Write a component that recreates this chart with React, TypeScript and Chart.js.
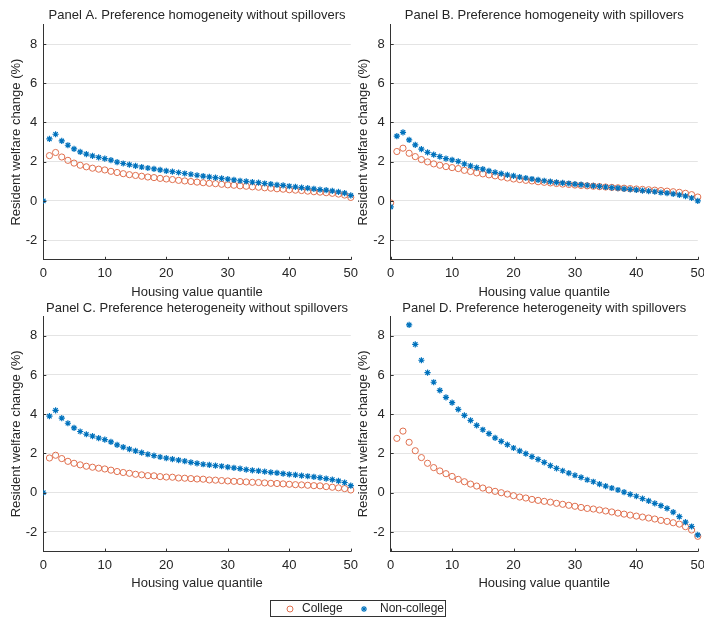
import React, { useEffect, useRef } from "react";
import { Chart, registerables } from "chart.js";

Chart.register(...registerables);

// ---------- data ----------
const quantiles = [
  0, 1, 2, 3, 4, 5, 6, 7, 8, 9, 10, 11, 12, 13, 14, 15, 16, 17, 18, 19, 20,
  21, 22, 23, 24, 25, 26, 27, 28, 29, 30, 31, 32, 33, 34, 35, 36, 37, 38, 39,
  40, 41, 42, 43, 44, 45, 46, 47, 48, 49, 50,
];

const xTickValues = [0, 10, 20, 30, 40, 50];
const yTickValues = [-2, 0, 2, 4, 6, 8];

const panelTitles = [
  "Panel A. Preference homogeneity without spillovers",
  "Panel B. Preference homogeneity with spillovers",
  "Panel C. Preference heterogeneity without spillovers",
  "Panel D. Preference heterogeneity with spillovers",
];

const seriesNames = ["College", "Non-college"];
const xAxisTitle = "Housing value quantile";
const yAxisTitle = "Resident welfare change (%)";

// Panel A
const collegeA = [
  null, 2.31, 2.47, 2.24, 2.07, 1.93, 1.82, 1.74, 1.67, 1.62, 1.58, 1.51, 1.45,
  1.39, 1.34, 1.3, 1.26, 1.22, 1.19, 1.15, 1.12, 1.09, 1.05, 1.02, 0.99, 0.96,
  0.93, 0.9, 0.88, 0.85, 0.82, 0.8, 0.77, 0.75, 0.72, 0.7, 0.67, 0.65, 0.62,
  0.6, 0.57, 0.55, 0.53, 0.5, 0.47, 0.45, 0.42, 0.39, 0.35, 0.3, 0.18,
];
const nonCollegeA = [
  0, 3.16, 3.4, 3.06, 2.84, 2.65, 2.5, 2.39, 2.3, 2.22, 2.16, 2.08, 1.98, 1.91,
  1.85, 1.79, 1.73, 1.68, 1.63, 1.58, 1.53, 1.49, 1.45, 1.4, 1.36, 1.31, 1.27,
  1.23, 1.19, 1.15, 1.11, 1.07, 1.03, 1.0, 0.96, 0.93, 0.89, 0.86, 0.82, 0.79,
  0.75, 0.72, 0.68, 0.65, 0.62, 0.58, 0.55, 0.51, 0.46, 0.4, 0.28,
];

// Panel B
const collegeB = [
  -0.1, 2.52, 2.69, 2.43, 2.26, 2.11, 1.99, 1.89, 1.82, 1.75, 1.7, 1.65, 1.56,
  1.5, 1.43, 1.38, 1.33, 1.28, 1.22, 1.17, 1.12, 1.09, 1.05, 1.02, 0.98, 0.95,
  0.92, 0.89, 0.86, 0.84, 0.81, 0.79, 0.77, 0.75, 0.73, 0.71, 0.69, 0.67, 0.65,
  0.63, 0.61, 0.59, 0.57, 0.55, 0.53, 0.5, 0.47, 0.44, 0.39, 0.32, 0.2,
];
const nonCollegeB = [
  -0.3, 3.3, 3.5, 3.11, 2.86, 2.64, 2.48, 2.36, 2.26, 2.16, 2.09, 2.02, 1.89,
  1.79, 1.7, 1.62, 1.53, 1.46, 1.39, 1.33, 1.28, 1.22, 1.17, 1.12, 1.07, 1.03,
  0.99, 0.95, 0.92, 0.89, 0.86, 0.83, 0.8, 0.77, 0.74, 0.71, 0.68, 0.65, 0.62,
  0.59, 0.56, 0.53, 0.5, 0.47, 0.43, 0.4, 0.36, 0.31, 0.25, 0.15, 0.0,
];

// Panel C
const collegeC = [
  null, 1.77, 1.91, 1.74, 1.6, 1.5, 1.42, 1.35, 1.3, 1.25, 1.21, 1.15, 1.08,
  1.03, 0.99, 0.94, 0.91, 0.87, 0.86, 0.82, 0.8, 0.79, 0.75, 0.74, 0.72, 0.7,
  0.69, 0.65, 0.64, 0.62, 0.6, 0.58, 0.57, 0.55, 0.53, 0.52, 0.5, 0.48, 0.47,
  0.45, 0.43, 0.41, 0.4, 0.38, 0.36, 0.35, 0.31, 0.28, 0.25, 0.21, 0.14,
];
const nonCollegeC = [
  0, 3.9, 4.2, 3.8, 3.54, 3.3, 3.12, 2.98, 2.88, 2.78, 2.71, 2.59, 2.44, 2.32,
  2.22, 2.13, 2.04, 1.96, 1.89, 1.82, 1.76, 1.71, 1.66, 1.61, 1.55, 1.5, 1.45,
  1.42, 1.38, 1.35, 1.3, 1.27, 1.23, 1.18, 1.14, 1.11, 1.08, 1.04, 1.01, 0.97,
  0.94, 0.91, 0.87, 0.84, 0.81, 0.77, 0.72, 0.67, 0.6, 0.52, 0.36,
];

// Panel D
const collegeD = [
  null, 2.77, 3.14, 2.57, 2.14, 1.79, 1.5, 1.28, 1.11, 0.97, 0.83, 0.68, 0.56,
  0.44, 0.34, 0.24, 0.14, 0.07, 0.0, -0.07, -0.15, -0.22, -0.27, -0.34, -0.39,
  -0.44, -0.48, -0.54, -0.59, -0.64, -0.69, -0.75, -0.8, -0.83, -0.88, -0.93,
  -0.98, -1.04, -1.09, -1.14, -1.19, -1.24, -1.29, -1.34, -1.41, -1.46, -1.53,
  -1.6, -1.73, -1.9, -2.22,
];
const nonCollegeD = [
  null, null, null, 8.55, 7.56, 6.75, 6.12, 5.63, 5.22, 4.86, 4.59, 4.25, 3.94,
  3.69, 3.43, 3.21, 3.01, 2.8, 2.62, 2.45, 2.28, 2.13, 1.99, 1.84, 1.7, 1.55,
  1.38, 1.24, 1.12, 1.0, 0.89, 0.78, 0.66, 0.56, 0.44, 0.34, 0.24, 0.14, 0.03,
  -0.08, -0.18, -0.3, -0.42, -0.54, -0.66, -0.8, -0.99, -1.22, -1.5, -1.72,
  -2.15,
];

// ---------- styles ----------
const FONT = "'Liberation Sans', Arial, Helvetica, sans-serif";
const TEXT = "#262626";
const AXIS = "#333333";
const GRID = "#e4e4e4";
const BLUE = "#0072BD";
const ORANGE = "#E0704F";

type Num = number | null;

function toPoints(vals: Num[]) {
  const pts: { x: number; y: number }[] = [];
  quantiles.forEach((q, i) => {
    const v = vals[i];
    if (v !== null && v !== undefined) pts.push({ x: q, y: v });
  });
  return pts;
}

// small inward tick marks along the axes (MATLAB style)
const inwardTicks = {
  id: "inwardTicks",
  afterDraw(chart: any) {
    const { ctx, chartArea, scales } = chart;
    const len = 3;
    ctx.save();
    ctx.strokeStyle = AXIS;
    ctx.lineWidth = 1;
    ctx.beginPath();
    for (const v of xTickValues) {
      const x = Math.round(scales.x.getPixelForValue(v)) + 0.5;
      ctx.moveTo(x, chartArea.bottom);
      ctx.lineTo(x, chartArea.bottom - len);
    }
    for (const v of yTickValues) {
      const y = Math.round(scales.y.getPixelForValue(v)) + 0.5;
      ctx.moveTo(chartArea.left, y);
      ctx.lineTo(chartArea.left + len, y);
    }
    ctx.stroke();
    ctx.restore();
  },
};

type PanelProps = {
  title: string;
  college: Num[];
  nonCollege: Num[];
  left: number;
  top: number;
  width: number;
  height: number;
  yAxisWidth: number;
  yTitlePad: number;
  titlePadTop: number;
  titlePadBottom: number;
  xAxisHeight: number;
  xTitlePadBottom: number;
};

function Panel(p: PanelProps) {
  const ref = useRef<HTMLCanvasElement | null>(null);
  useEffect(() => {
    if (!ref.current) return;
    const clip: any = { left: 0, top: 0, right: false, bottom: 0 };
    const font = { family: FONT, size: 13, weight: "normal" as const };
    const chart = new Chart(ref.current, {
      type: "scatter",
      data: {
        datasets: [
          {
            label: seriesNames[1],
            data: toPoints(p.nonCollege),
            pointStyle: "star",
            pointRadius: 3.1,
            pointBorderWidth: 1.2,
            borderColor: BLUE,
            backgroundColor: BLUE,
            order: 0,
            clip,
          } as any,
          {
            label: seriesNames[0],
            data: toPoints(p.college),
            pointStyle: "circle",
            pointRadius: 3.1,
            pointBorderWidth: 1,
            borderColor: ORANGE,
            backgroundColor: "rgba(0,0,0,0)",
            order: 1,
            clip,
          } as any,
        ],
      },
      plugins: [inwardTicks],
      options: {
        animation: false,
        responsive: false,
        maintainAspectRatio: false,
        devicePixelRatio: 1,
        layout: { padding: 0 },
        events: [],
        plugins: {
          legend: { display: false },
          tooltip: { enabled: false },
          title: {
            display: true,
            text: p.title,
            fullSize: false,
            color: TEXT,
            font,
            padding: { top: p.titlePadTop, bottom: p.titlePadBottom },
          },
        },
        scales: {
          x: {
            type: "linear",
            min: 0,
            max: 50,
            afterBuildTicks: (axis: any) => {
              axis.ticks = xTickValues.map((v) => ({ value: v }));
            },
            afterFit: (scale: any) => {
              scale.height = p.xAxisHeight;
            },
            grid: {
              display: true,
              drawOnChartArea: false,
              drawTicks: true,
              tickLength: 6,
              color: "rgba(0,0,0,0)",
            },
            border: { display: true, color: AXIS, width: 1 },
            ticks: {
              padding: 0,
              color: TEXT,
              font,
              maxRotation: 0,
              autoSkip: false,
            },
            title: {
              display: true,
              text: xAxisTitle,
              color: TEXT,
              font,
              padding: { top: 0, bottom: p.xTitlePadBottom },
            },
          },
          y: {
            type: "linear",
            min: -3,
            max: 9,
            afterBuildTicks: (axis: any) => {
              axis.ticks = yTickValues.map((v) => ({ value: v }));
            },
            afterFit: (scale: any) => {
              scale.width = p.yAxisWidth;
            },
            grid: { color: GRID, lineWidth: 1, drawTicks: false },
            border: { display: true, color: AXIS, width: 1 },
            ticks: { padding: 6, color: TEXT, font, autoSkip: false },
            title: {
              display: true,
              text: yAxisTitle,
              color: TEXT,
              font,
              padding: { top: p.yTitlePad, bottom: 0 },
            },
          },
        },
      } as any,
    });
    return () => chart.destroy();
  }, []);
  return (
    <canvas
      ref={ref}
      width={p.width}
      height={p.height}
      style={{
        position: "absolute",
        left: p.left,
        top: p.top,
        width: p.width,
        height: p.height,
      }}
    />
  );
}

function Legend() {
  return (
    <div
      style={{
        position: "absolute",
        left: 270,
        top: 600,
        width: 176,
        height: 17,
        boxSizing: "border-box",
        border: "1px solid #333",
        background: "#fff",
        fontFamily: FONT,
        fontSize: 12,
        color: TEXT,
      }}
    >
      <svg
        width="10"
        height="10"
        style={{ position: "absolute", left: 14, top: 3 }}
      >
        <circle cx="5" cy="5" r="3" fill="none" stroke={ORANGE} strokeWidth="1" />
      </svg>
      <span style={{ position: "absolute", left: 31, top: 0, lineHeight: "15px" }}>
        {seriesNames[0]}
      </span>
      <svg
        width="10"
        height="10"
        style={{ position: "absolute", left: 88, top: 3 }}
      >
        <g stroke={BLUE} strokeWidth="1.2">
          <line x1="5" y1="2" x2="5" y2="8" />
          <line x1="2" y1="5" x2="8" y2="5" />
          <line x1="2.9" y1="2.9" x2="7.1" y2="7.1" />
          <line x1="2.9" y1="7.1" x2="7.1" y2="2.9" />
        </g>
      </svg>
      <span style={{ position: "absolute", left: 109, top: 0, lineHeight: "15px" }}>
        {seriesNames[1]}
      </span>
    </div>
  );
}

export default function App() {
  const topRow = {
    top: 0,
    height: 300,
    titlePadTop: 7.2,
    titlePadBottom: 1.6,
    xAxisHeight: 40.2,
    xTitlePadBottom: 0,
  };
  const bottomRow = {
    top: 296,
    height: 296,
    titlePadTop: 4.5,
    titlePadBottom: 0,
    xAxisHeight: 40.4,
    xTitlePadBottom: 0.9,
  };
  const leftCol = { left: 0, width: 358, yAxisWidth: 43.3, yTitlePad: 8.9 };
  const rightCol = { left: 350, width: 355, yAxisWidth: 40.7, yTitlePad: 5.5 };
  return (
    <div
      style={{
        position: "absolute",
        left: 0,
        top: 0,
        width: 704,
        height: 620,
        overflow: "hidden",
        background: "#fff",
      }}
    >
      <Panel title={panelTitles[0]} college={collegeA} nonCollege={nonCollegeA} {...topRow} {...leftCol} />
      <Panel title={panelTitles[1]} college={collegeB} nonCollege={nonCollegeB} {...topRow} {...rightCol} />
      <Panel title={panelTitles[2]} college={collegeC} nonCollege={nonCollegeC} {...bottomRow} {...leftCol} />
      <Panel title={panelTitles[3]} college={collegeD} nonCollege={nonCollegeD} {...bottomRow} {...rightCol} />
      <Legend />
    </div>
  );
}
